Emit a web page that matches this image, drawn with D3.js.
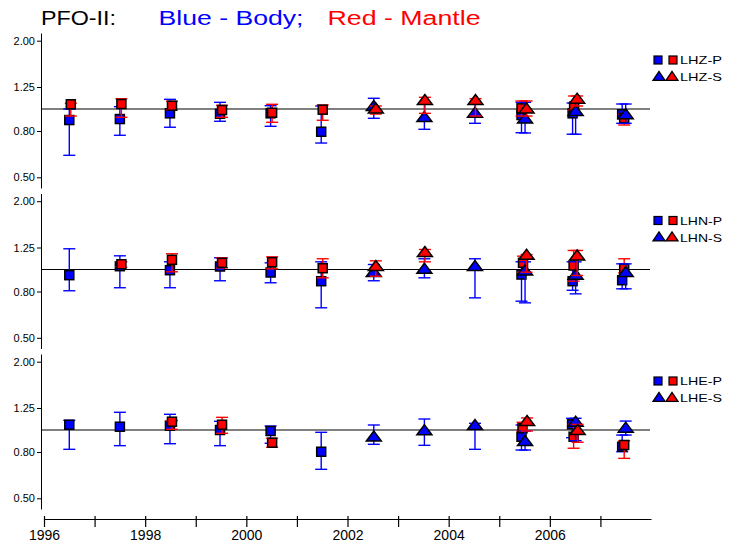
<!DOCTYPE html>
<html><head><meta charset="utf-8">
<script src="https://cdn.jsdelivr.net/npm/d3@7"></script>
<style>body{margin:0;background:#fff} svg{display:block}</style>
</head><body>
<svg id="c" width="733" height="551"></svg>
<script>
// rows: [decimal year, ratio, lower, upper]
const lhzBodyP = [[1996.50,0.894,0.625,1.000],[1997.50,0.903,0.766,1.024],[1998.49,0.957,0.831,1.103],[1999.48,0.953,0.883,1.070],[2000.48,0.957,0.839,1.034],[2001.48,0.794,0.708,1.031],[2005.44,0.941,0.786,1.070],[2006.45,0.957,0.774,1.063],[2007.43,0.948,0.865,1.052]];
const lhzMantleP = [[1996.53,1.049,0.931,1.060],[1997.53,1.052,0.919,1.110],[1998.53,1.034,0.990,1.081],[1999.52,0.990,0.919,1.038],[2000.51,0.963,0.874,1.049],[2001.51,0.993,0.892,1.041],[2005.44,1.007,0.931,1.085],[2006.48,1.024,0.990,1.141],[2007.47,0.912,0.850,0.950]];
const lhzBodyS = [[2002.52,1.024,0.910,1.115],[2003.52,0.915,0.814,1.052],[2004.52,0.957,0.865,1.066],[2005.51,0.901,0.784,1.070],[2006.51,0.973,0.774,1.063],[2007.50,0.941,0.865,1.052]];
const lhzMantleS = [[2002.56,0.997,0.950,1.031],[2003.53,1.088,0.957,1.126],[2004.53,1.088,0.931,1.110],[2005.54,0.997,0.931,1.085],[2006.54,1.103,1.031,1.141]];

const lhnBodyP = [[1996.50,0.944,0.806,1.234],[1997.50,1.034,0.831,1.149],[1998.49,0.993,0.831,1.081],[1999.48,1.031,0.892,1.126],[2000.48,0.970,0.874,1.070],[2001.48,0.888,0.678,1.081],[2005.44,0.950,0.725,1.081],[2006.45,0.888,0.810,1.081],[2007.43,0.897,0.822,1.059]];
const lhnMantleP = [[1997.53,1.055,1.024,1.081],[1998.53,1.103,0.977,1.173],[1999.52,1.070,1.017,1.126],[2000.51,1.077,1.007,1.137],[2001.51,1.013,0.919,1.115],[2005.47,1.070,0.973,1.145],[2006.47,1.041,0.888,1.213],[2007.47,1.007,0.967,1.115]];
const lhnBodyS = [[2002.52,0.967,0.892,1.052],[2003.52,1.000,0.919,1.115],[2004.52,1.028,0.750,1.115],[2005.51,0.983,0.713,1.081],[2006.51,0.941,0.781,1.081],[2007.50,0.967,0.822,1.059]];
const lhnMantleS = [[2002.56,1.028,0.934,1.092],[2003.53,1.185,1.081,1.225],[2005.54,1.153,0.973,1.164],[2006.54,1.145,0.941,1.213]];

const lheBodyP = [[1996.50,1.055,0.822,1.103],[1997.50,1.034,0.853,1.197],[1998.49,1.045,0.870,1.173],[1999.48,1.000,0.853,1.092],[2000.48,0.990,0.874,1.041],[2001.48,0.802,0.671,0.977],[2005.44,0.934,0.816,1.052],[2006.44,1.059,0.925,1.126],[2007.43,0.844,0.802,0.950]];
const lheMantleP = [[1998.53,1.088,1.007,1.100],[1999.52,1.055,0.967,1.137],[2000.51,0.879,0.839,0.919],[2005.46,1.017,0.990,1.081],[2006.47,0.934,0.831,1.059],[2007.47,0.859,0.750,0.897]];
const lheBodyS = [[2002.52,0.929,0.865,1.052],[2003.52,0.990,0.856,1.118],[2004.52,1.045,0.822,1.070],[2005.51,0.888,0.816,0.990],[2006.51,1.081,0.897,1.126],[2007.50,1.017,0.950,1.095]];
const lheMantleS = [[2005.55,1.088,0.990,1.130],[2006.55,0.993,0.883,1.059]];

const channels = ["LHZ", "LHN", "LHE"];
const yTicks = [0.5, 0.8, 1.25, 2.0];
const xTicks = [1996,1997,1998,1999,2000,2001,2002,2003,2004,2005,2006,2007];
const titleParts = ["PFO-II:", "Blue - Body;", "Red - Mantle"];

const panelData = [
  {body:{P:lhzBodyP,S:lhzBodyS}, mantle:{P:lhzMantleP,S:lhzMantleS}},
  {body:{P:lhnBodyP,S:lhnBodyS}, mantle:{P:lhnMantleP,S:lhnMantleS}},
  {body:{P:lheBodyP,S:lheBodyS}, mantle:{P:lheMantleP,S:lheMantleS}}
];
const colors = {body:"#0000ff", mantle:"#ff0000"};

const W=733,H=551;
const mono="'DejaVu Sans Mono', monospace";
const sans="'Liberation Sans', Arial, sans-serif";
const svg=d3.select("#c");
svg.append("rect").attr("width",W).attr("height",H).attr("fill","#fff");

const x=d3.scaleLinear().domain([1996,2008]).range([44,651]);

// title
const tpos = [[41,75,"#000"],[158.5,145,"#0000ff"],[327.5,153,"#ff0000"]];
titleParts.forEach((t,k)=>{
  svg.append("text").attr("x",tpos[k][0]).attr("y",25).attr("font-family",sans).attr("font-size",20)
    .attr("textLength",tpos[k][1]).attr("lengthAdjust","spacingAndGlyphs").attr("fill",tpos[k][2]).text(t);
});

const triPath = (cx,cy,hw,h) => `M${cx-hw},${cy+h*0.38}L${cx+hw},${cy+h*0.38}L${cx},${cy-h*0.62}Z`;

panelData.forEach((pd,i)=>{
  const y1 = 109 + 160.5*i;
  const yb = d3.scaleLog().domain([0.5,2]).range([y1+68.3, y1-68.3]);
  const top = y1-76, bot = y1+79;
  const y = d3.scaleLog().domain([yb.invert(bot), yb.invert(top)]).range([bot, top]);
  const g = svg.append("g");

  const ax = g.append("g").attr("transform","translate(41,0)")
    .call(d3.axisLeft(y).tickValues(yTicks).tickFormat(d3.format(".2f")).tickSize(4).tickSizeOuter(0));
  ax.selectAll("text").attr("font-family",sans).attr("font-size",11).attr("fill","#000").attr("x",-6);
  ax.selectAll("line,path").attr("stroke","#000").attr("stroke-width",1);

  g.append("line").attr("x1",41).attr("x2",650).attr("y1",y(1)).attr("y2",y(1))
    .attr("stroke","#000").attr("stroke-width",1.1);

  const order = [["body","P"],["mantle","P"],["body","S"],["mantle","S"]];
  order.forEach(([who,ph])=>{
    const rows = pd[who][ph];
    const col = colors[who];
    const sg = g.append("g");
    rows.forEach(r=>{
      const cx = x(r[0]), cy = y(r[1]);
      sg.append("line").attr("x1",cx).attr("x2",cx).attr("y1",y(r[2])).attr("y2",y(r[3])).attr("stroke",col).attr("stroke-width",1.4);
      [r[2],r[3]].forEach(v=>{
        sg.append("line").attr("x1",cx-6).attr("x2",cx+6).attr("y1",y(v)).attr("y2",y(v)).attr("stroke",col).attr("stroke-width",1.4);
      });
      if(ph==="P"){
        sg.append("rect").attr("x",cx-4.5).attr("y",cy-4.5).attr("width",9).attr("height",9)
          .attr("fill",col).attr("stroke","#000").attr("stroke-width",1.5);
      } else {
        sg.append("path").attr("d",triPath(cx,cy,7.5,10)).attr("fill",col).attr("stroke","#000").attr("stroke-width",1.5);
      }
    });
  });

  // legend
  const ly1 = y1-49, ly2 = y1-32;
  const lg = g.append("g");
  lg.append("rect").attr("x",654).attr("y",ly1-4).attr("width",8).attr("height",8).attr("fill",colors.body).attr("stroke","#000").attr("stroke-width",1.2);
  lg.append("rect").attr("x",669).attr("y",ly1-4).attr("width",8).attr("height",8).attr("fill",colors.mantle).attr("stroke","#000").attr("stroke-width",1.2);
  lg.append("path").attr("d",triPath(659,ly2,6,9)).attr("fill",colors.body).attr("stroke","#000").attr("stroke-width",1.3);
  lg.append("path").attr("d",triPath(672,ly2,6,9)).attr("fill",colors.mantle).attr("stroke","#000").attr("stroke-width",1.3);
  lg.append("text").attr("x",680).attr("y",ly1+4).attr("font-family",sans).attr("font-size",11)
    .attr("textLength",42).attr("lengthAdjust","spacingAndGlyphs").attr("fill","#000").text(channels[i]+"-P");
  lg.append("text").attr("x",680).attr("y",ly2+4).attr("font-family",sans).attr("font-size",11)
    .attr("textLength",42).attr("lengthAdjust","spacingAndGlyphs").attr("fill","#000").text(channels[i]+"-S");
});

// x axis
const xa = svg.append("g").attr("transform","translate(0,519)")
  .call(d3.axisBottom(x).tickValues(xTicks).tickFormat(d=> d%2===0 ? String(d) : "").tickSize(8).tickSizeOuter(0));
xa.selectAll(".tick line").attr("y1",-3);
xa.selectAll("line,path").attr("stroke","#000").attr("stroke-width",1.2);
xa.selectAll("text").attr("font-family",sans).attr("font-size",14).attr("fill","#000").attr("y",11).attr("dy","0.71em");
</script>
</body></html>
